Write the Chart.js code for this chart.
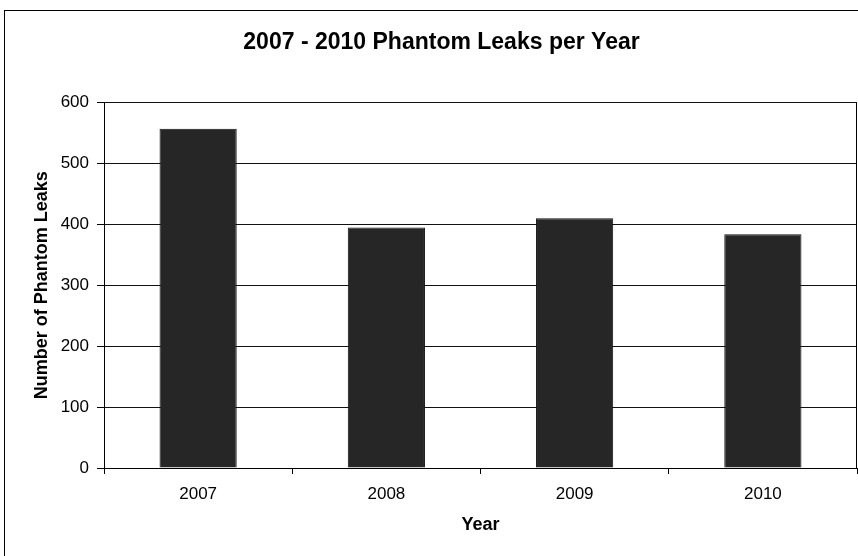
<!DOCTYPE html>
<html>
<head>
<meta charset="utf-8">
<title>2007 - 2010 Phantom Leaks per Year</title>
<script src="https://cdn.jsdelivr.net/npm/chart.js@4/dist/chart.umd.min.js"></script>
<style>
  html, body { margin: 0; padding: 0; background: #fff; }
  #wrap { position: relative; width: 858px; height: 556px; }
</style>
</head>
<body>
<div id="wrap"><canvas id="chart" width="858" height="556"></canvas></div>
<script>
// Yearly phantom leak counts
const years = ['2007', '2008', '2009', '2010'];
const leakCounts = [557, 395, 410, 384];
const yTicks = [0, 100, 200, 300, 400, 500, 600];

const FONT = "'Liberation Sans', Arial, sans-serif";

// Frame around the whole chart and a border on the right of the plot area
const framePlugin = {
  id: 'frame',
  beforeDraw(chart) {
    const ctx = chart.ctx;
    ctx.save();
    ctx.fillStyle = '#fff';
    ctx.fillRect(0, 0, chart.width, chart.height);
    ctx.strokeStyle = '#000';
    ctx.lineWidth = 1;
    ctx.strokeRect(4.5, 10.5, chart.width + 10, chart.height + 10);
    ctx.restore();
  },
  afterDatasetsDraw(chart) {
    const a = chart.chartArea;
    const ctx = chart.ctx;
    ctx.save();
    ctx.strokeStyle = '#000';
    ctx.lineWidth = 1;
    ctx.beginPath();
    ctx.moveTo(Math.round(a.right) - 0.5, a.top);
    ctx.lineTo(Math.round(a.right) - 0.5, a.bottom);
    ctx.stroke();
    ctx.restore();
  }
};

new Chart(document.getElementById('chart'), {
  type: 'bar',
  data: {
    labels: years,
    datasets: [{
      data: leakCounts,
      backgroundColor: '#262626',
      borderColor: '#111',
      borderWidth: 1,
      categoryPercentage: 1.0,
      barPercentage: 0.41
    }]
  },
  options: {
    responsive: false,
    animation: false,
    devicePixelRatio: 1,
    layout: { padding: { left: 26, right: 1, top: 0, bottom: 0 } },
    plugins: {
      legend: { display: false },
      tooltip: { enabled: false },
      title: {
        display: true,
        text: '2007 - 2010 Phantom Leaks per Year',
        color: '#000',
        font: { family: FONT, size: 23, weight: 'bold', lineHeight: 1.2 },
        padding: { top: 29, bottom: 46 }
      }
    },
    scales: {
      x: {
        offset: true,
        grid: {
          display: true,
          drawOnChartArea: false,
          drawTicks: true,
          tickLength: 6,
          color: '#000'
        },
        border: { display: true, color: '#000', width: 1 },
        ticks: {
          color: '#000',
          padding: 10,
          font: { family: FONT, size: 17 }
        },
        title: {
          display: true,
          text: 'Year',
          color: '#000',
          font: { family: FONT, size: 18, weight: 'bold', lineHeight: 1.2 },
          padding: { top: 0, bottom: 20 }
        },
        afterFit(scale) { scale.height = 88; }
      },
      y: {
        min: 0,
        max: 600,
        afterBuildTicks(scale) { scale.ticks = yTicks.map(v => ({ value: v })); },
        grid: {
          color: '#111',
          lineWidth: 1,
          drawTicks: true,
          tickLength: 7,
          tickColor: '#000'
        },
        border: { display: true, color: '#000', width: 1 },
        ticks: {
          color: '#000',
          padding: 8,
          font: { family: FONT, size: 17 }
        },
        title: {
          display: true,
          text: 'Number of Phantom Leaks',
          color: '#000',
          font: { family: FONT, size: 18, weight: 'bold', lineHeight: 1.2 },
          padding: { top: 5, bottom: 0 }
        },
        afterFit(scale) { scale.width = 78; }
      }
    }
  },
  plugins: [framePlugin]
});
</script>
</body>
</html>
